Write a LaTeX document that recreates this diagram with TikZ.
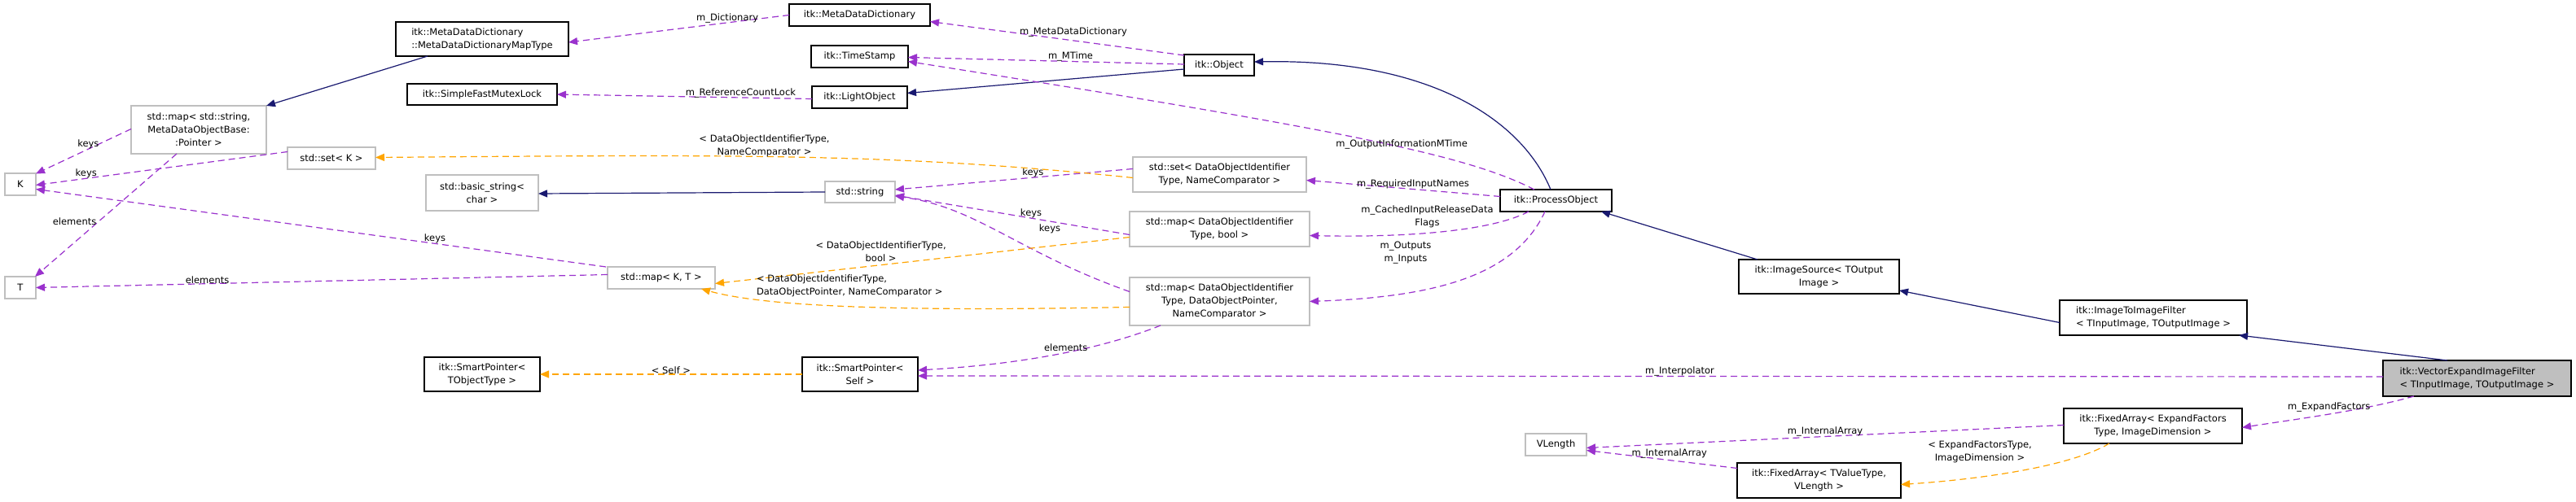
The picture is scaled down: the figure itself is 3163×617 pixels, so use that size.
\documentclass[tikz,border=0pt]{standalone}
\usepackage{fontspec}
\setmainfont{DejaVu Sans}
\usetikzlibrary{arrows.meta}
\definecolor{epurple}{HTML}{9A32CD}
\definecolor{eorange}{HTML}{FFA500}
\definecolor{enavy}{HTML}{191970}
\definecolor{egray}{HTML}{BFBFBF}
\newcommand\bx[7]{\node[#6, minimum width={(#4-#2)*1pt}, minimum height={(#5-#3)*1pt}] (#1) at ({(#2+#4)/2},{(#3+#5)/2}) {#7};}
\begin{document}
\begin{tikzpicture}[x=1pt,y=-1pt,
  every node/.style={font=\fontsize{11.5}{16}\selectfont, inner sep=0pt, outer sep=0pt},
  box/.style={draw=black, line width=1.3pt, align=center, fill=white},
  gbox/.style={draw=egray, line width=1.3pt, align=center, fill=white},
  lbox/.style={box, align=left},
  tip/.style={-{Triangle[length=11pt,width=9pt]}},
  use/.style={tip, draw=epurple, line width=1.2pt, dash pattern=on 8pt off 5pt},
  tmpl/.style={tip, draw=eorange, line width=1.2pt, dash pattern=on 8pt off 5pt},
  inh/.style={tip, draw=enavy, line width=1.2pt},
  lab/.style={align=center}]
\useasboundingbox (0,0) rectangle (3163,617);
\fill[white] (0,0) rectangle (3163,617);
% nodes
\bx{mt}{486}{27}{698}{69}{lbox}{itk::MetaDataDictionary\\::MetaDataDictionaryMapType}
\bx{sf}{500}{103}{684}{129}{box}{itk::SimpleFastMutexLock}
\bx{ms}{161}{130}{327}{189}{gbox}{std::map< std::string,\\MetaDataObjectBase:\\:Pointer >}
\bx{sk}{353}{181}{461}{208}{gbox}{std::set< K >}
\bx{K}{6}{213}{44}{240}{gbox}{K}
\bx{T}{6}{340}{44}{367}{gbox}{T}
\bx{bs}{523}{215}{661}{259}{gbox}{std::basic\_string<\\char >}
\bx{spt}{521}{439}{663}{481}{box}{itk::SmartPointer<\\TObjectType >}
\bx{mkt}{746}{328}{878}{355}{gbox}{std::map< K, T >}
\bx{md}{969}{5}{1142}{32}{box}{itk::MetaDataDictionary}
\bx{ts}{996}{56}{1115}{83}{box}{itk::TimeStamp}
\bx{lo}{997}{106}{1114}{133}{box}{itk::LightObject}
\bx{ob}{1454}{67}{1540}{93}{box}{itk::Object}
\bx{ss}{1013}{223}{1099}{249}{gbox}{std::string}
\bx{sd}{1391}{193}{1604}{236}{gbox}{std::set< DataObjectIdentifier\\Type, NameComparator >}
\bx{mb}{1387}{260}{1608}{303}{gbox}{std::map< DataObjectIdentifier\\Type, bool >}
\bx{mp}{1387}{341}{1608}{400}{gbox}{std::map< DataObjectIdentifier\\Type, DataObjectPointer,\\NameComparator >}
\bx{sps}{985}{439}{1127}{481}{box}{itk::SmartPointer<\\Self >}
\bx{po}{1842}{233}{1979}{260}{box}{itk::ProcessObject}
\bx{is}{2135}{319}{2332}{361}{box}{itk::ImageSource< TOutput\\Image >}
\bx{ii}{2529}{369}{2759}{412}{lbox}{itk::ImageToImageFilter\\< TInputImage, TOutputImage >}
\bx{ve}{2926}{443}{3157}{487}{lbox,fill=egray}{itk::VectorExpandImageFilter\\< TInputImage, TOutputImage >}
\bx{fe}{2534}{502}{2753}{545}{box}{itk::FixedArray< ExpandFactors\\Type, ImageDimension >}
\bx{vl}{1873}{533}{1948}{560}{gbox}{VLength}
\bx{ft}{2133}{569}{2334}{612}{box}{itk::FixedArray< TValueType,\\VLength >}
% inheritance
\draw[inh] ([xshift=39pt]mt.south west) -- (ms.north east);
\draw[inh] ([yshift=-5pt]ob.west) -- ([yshift=5pt]lo.east);
\draw[inh] ([xshift=62pt]po.north west) .. controls (1870,150) and (1760,72) .. ([yshift=4pt]ob.east);
\draw[inh] (ss.west) -- ([yshift=-1pt]bs.east);
\draw[inh] ([xshift=23pt]is.north west) -- ([xshift=-13pt]po.south east);
\draw[inh] ([yshift=-6pt]ii.west) -- ([yshift=4pt]is.south east);
\draw[inh] ([xshift=79pt]ve.north west) -- ([xshift=-10pt]ii.south east);
% usage
\draw[use] (md.west) -- node[above,pos=0.28]{m\_Dictionary} ([yshift=-4pt]mt.east);
\draw[use] ([yshift=-2pt]lo.west) -- node[above,pos=0.28]{m\_ReferenceCountLock} (sf.east);
\draw[use] ([yshift=12pt]ob.west) -- node[above,pos=0.5,xshift=20pt,yshift=2pt]{m\_MetaDataDictionary} ([yshift=-8pt]md.east);
\draw[use] ([yshift=1pt]ob.west) -- node[above,pos=0.5,xshift=30pt]{m\_MTime} ([yshift=-1pt]ts.east);
\draw[use] ([xshift=42pt]po.north west) .. controls (1800,190) and (1650,160) .. node[above,pos=0.4,xshift=-10pt]{m\_OutputInformationMTime} ([yshift=-6pt]ts.east);
\draw[use] ([yshift=5pt]po.west) -- node[above,pos=0.45]{m\_RequiredInputNames} ([yshift=-7pt]sd.east);
\draw[use] ([xshift=35pt]po.south west) .. controls (1830,285) and (1720,292) .. node[lab,pos=0.55,above=6pt]{m\_CachedInputReleaseData\\Flags} ([yshift=-8pt]mb.east);
\draw[use] ([xshift=55pt]po.south west) .. controls (1860,340) and (1760,365) .. ([yshift=-0pt]mp.east);
\node[lab] (lout) at (1726,311) {m\_Outputs\\m\_Inputs};
\draw[use] ([yshift=7pt]sd.west) -- node[above,pos=0.42]{keys} ([yshift=3pt]ss.east);
\draw[use] ([yshift=-7pt]mb.west) -- node[above,pos=0.42]{keys} ([yshift=-4pt]ss.east);
\draw[use] ([yshift=12pt]mp.west) .. controls (1250,310) and (1200,255) .. ([yshift=-5pt]ss.east);
\node (lk3) at (1289,281) {keys};
\draw[use] ([xshift=38pt]mp.south west) .. controls (1350,430) and (1250,448) .. node[above,pos=0.45,yshift=2pt]{elements} ([yshift=5pt]sps.east);
\draw[use] ([yshift=2pt]ve.west) -- node[above,pos=0.48]{m\_Interpolator} ([yshift=-2pt]sps.east);
\draw[use] ([xshift=-2pt]mkt.north west) -- node[above,pos=0.3]{keys} ([yshift=-6pt]K.east);
\draw[use] ([yshift=4pt]mkt.west) -- node[above,pos=0.7]{elements} (T.east);
\draw[use] ([yshift=8pt]sk.west) -- node[above,pos=0.8]{keys} ([yshift=-1pt]K.east);
\draw[use] ([yshift=1pt]ms.west) -- node[above,pos=0.45]{keys} ([yshift=13pt]K.east);
\draw[use] ([xshift=56pt]ms.south west) -- node[pos=0.55,left=3pt]{elements} ([xshift=-1pt]T.north east);
\draw[use] ([xshift=38pt]ve.south west) .. controls (2900,505) and (2820,515) .. node[above,pos=0.5,yshift=3pt]{m\_ExpandFactors} ([yshift=-2pt]fe.east);
\draw[use] ([yshift=1pt]fe.west) -- node[above,pos=0.5]{m\_InternalArray} ([yshift=-4pt]vl.east);
\draw[use] ([yshift=15pt]ft.west) -- node[above,pos=0.45,yshift=2pt]{m\_InternalArray} ([yshift=-7pt]vl.east);
% templates
\draw[tmpl] ([yshift=-4pt]sd.west) .. controls (1100,188) and (900,190) .. node[lab,above,pos=0.55]{< DataObjectIdentifierType,\\NameComparator >} ([yshift=1pt]sk.east);
\draw[tmpl] ([yshift=-10pt]mb.west) -- node[lab,above,pos=0.6,yshift=4pt]{< DataObjectIdentifierType,\\bool >} ([yshift=-7pt]mkt.east);
\draw[tmpl] ([yshift=-7pt]mp.west) .. controls (1150,382) and (950,380) .. ([xshift=-17pt]mkt.south east);
\node[align=left,anchor=west] (l18) at (929,351) {< DataObjectIdentifierType,\\DataObjectPointer, NameComparator >};
\draw[tmpl] (sps.west) -- node[above,pos=0.5]{< Self >} (spt.east);
\draw[tmpl] ([xshift=56pt]fe.south west) .. controls (2540,575) and (2420,590) .. ([yshift=-5pt]ft.east);
\node[lab] (l33) at (2431,555) {< ExpandFactorsType,\\ImageDimension >};
\end{tikzpicture}
\end{document}
